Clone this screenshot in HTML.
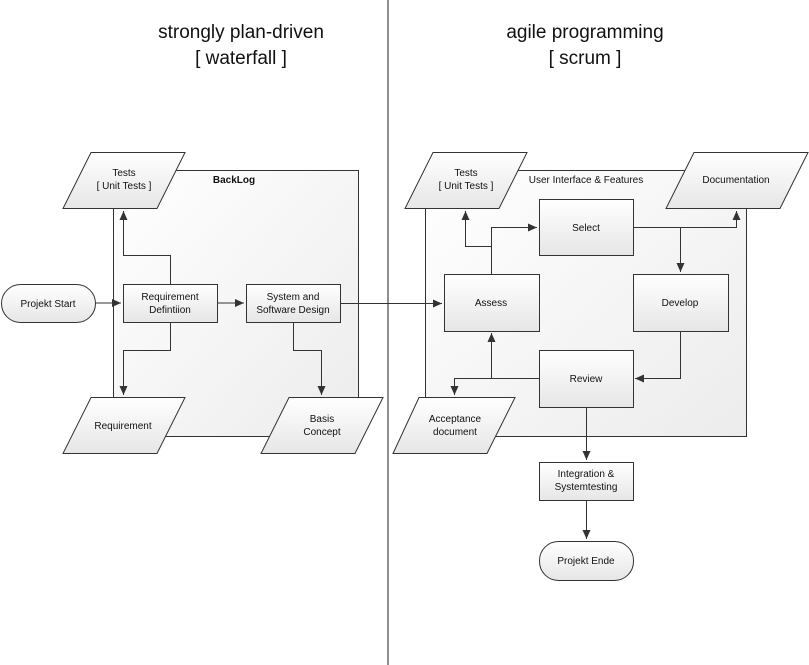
<!DOCTYPE html>
<html><head><meta charset="utf-8"><style>
html,body{margin:0;padding:0;background:#fff;}
svg{display:block;font-family:"Liberation Sans",sans-serif;}
text{font-size:10px;fill:#111;}
.t{font-size:19px;fill:#111;}
</style></head><body>
<svg width="809" height="665" viewBox="0 0 809 665" xmlns="http://www.w3.org/2000/svg">
<defs>
<linearGradient id="g" x1="0" y1="0" x2="0" y2="1"><stop offset="0" stop-color="#ffffff"/><stop offset="1" stop-color="#e6e6e6"/></linearGradient>
<linearGradient id="gc" x1="0" y1="0" x2="1" y2="1"><stop offset="0" stop-color="#ffffff"/><stop offset="1" stop-color="#ececec"/></linearGradient>
<marker id="a" markerWidth="10" markerHeight="10" refX="9" refY="4" orient="auto" markerUnits="userSpaceOnUse"><path d="M0,0 L9,4 L0,8 z" fill="#333"/></marker>
</defs>
<line x1="388" y1="0" x2="388" y2="665" stroke="#222" stroke-width="1"/>
<text class="t" x="241" y="38" text-anchor="middle">strongly plan-driven</text>
<text class="t" x="241" y="64" text-anchor="middle">[ waterfall ]</text>
<text class="t" x="585" y="38" text-anchor="middle">agile programming</text>
<text class="t" x="585" y="64" text-anchor="middle">[ scrum ]</text>

<g stroke="#333" stroke-width="1">
<rect x="113.5" y="170.5" width="245" height="266" fill="url(#gc)"/>
<rect x="425.5" y="170.5" width="321" height="266" fill="url(#gc)"/>
</g>
<text x="234" y="183" font-weight="bold" text-anchor="middle" style="font-size:10px">BackLog</text>
<text x="586" y="183" text-anchor="middle">User Interface &amp; Features</text>

<g fill="none" stroke="#333" stroke-width="1">
<path d="M95,303 H121" marker-end="url(#a)"/>
<path d="M217,303 H244" marker-end="url(#a)"/>
<path d="M170.5,284 V255.5 H123.5 V211" marker-end="url(#a)"/>
<path d="M170.5,322 V350.5 H123.5 V395" marker-end="url(#a)"/>
<path d="M293.5,322 V350.5 H321.5 V395" marker-end="url(#a)"/>
<path d="M340,303.5 H442" marker-end="url(#a)"/>
<path d="M491.5,274 V246.5 H465.5 V211" marker-end="url(#a)"/>
<path d="M491.5,246 V227.5 H537" marker-end="url(#a)"/>
<path d="M633,227.5 H736.5 V211" marker-end="url(#a)"/>
<path d="M680.5,227.5 V272" marker-end="url(#a)"/>
<path d="M680.5,331 V378.5 H635" marker-end="url(#a)"/>
<path d="M539,378.5 H454.5 V395" marker-end="url(#a)"/>
<path d="M491.5,378.5 V333" marker-end="url(#a)"/>
<path d="M586.5,407 V460" marker-end="url(#a)"/>
<path d="M586.5,500 V539" marker-end="url(#a)"/>
</g>

<g stroke="#333" stroke-width="1" fill="url(#g)">
<rect x="1.5" y="284.5" width="94" height="38" rx="19"/>
<rect x="123.5" y="284.5" width="94" height="38"/>
<rect x="246.5" y="284.5" width="94" height="38"/>
<polygon points="91,152.5 185,152.5 157,208.5 63,208.5"/>
<polygon points="91,397.5 185,397.5 157,453.5 63,453.5"/>
<polygon points="289,397.5 383,397.5 355,453.5 261,453.5"/>
<polygon points="433,152.5 527,152.5 499,208.5 405,208.5"/>
<polygon points="694,152.5 808,152.5 780,208.5 666,208.5"/>
<polygon points="419,397.5 515,397.5 487,453.5 393,453.5"/>
<rect x="539.5" y="199.5" width="94" height="56"/>
<rect x="444.5" y="274.5" width="95" height="57"/>
<rect x="633.5" y="274.5" width="95" height="57"/>
<rect x="539.5" y="350.5" width="94" height="57"/>
<rect x="539.5" y="462.5" width="94" height="38"/>
<rect x="539.5" y="541.5" width="94" height="39" rx="19"/>
</g>

<g text-anchor="middle">
<text x="48" y="307">Projekt Start</text>
<text x="170" y="300">Requirement</text>
<text x="170" y="313">Defintiion</text>
<text x="293" y="300">System and</text>
<text x="293" y="313">Software Design</text>
<text x="124" y="176">Tests</text>
<text x="124" y="189">[ Unit Tests ]</text>
<text x="123" y="429">Requirement</text>
<text x="322" y="422">Basis</text>
<text x="322" y="435">Concept</text>
<text x="466" y="176">Tests</text>
<text x="466" y="189">[ Unit Tests ]</text>
<text x="736" y="183">Documentation</text>
<text x="455" y="422">Acceptance</text>
<text x="455" y="435">document</text>
<text x="586" y="231">Select</text>
<text x="491" y="306">Assess</text>
<text x="680" y="306">Develop</text>
<text x="586" y="382">Review</text>
<text x="586" y="477">Integration &amp;</text>
<text x="586" y="490">Systemtesting</text>
<text x="586" y="564">Projekt Ende</text>
</g>
</svg>
</body></html>
